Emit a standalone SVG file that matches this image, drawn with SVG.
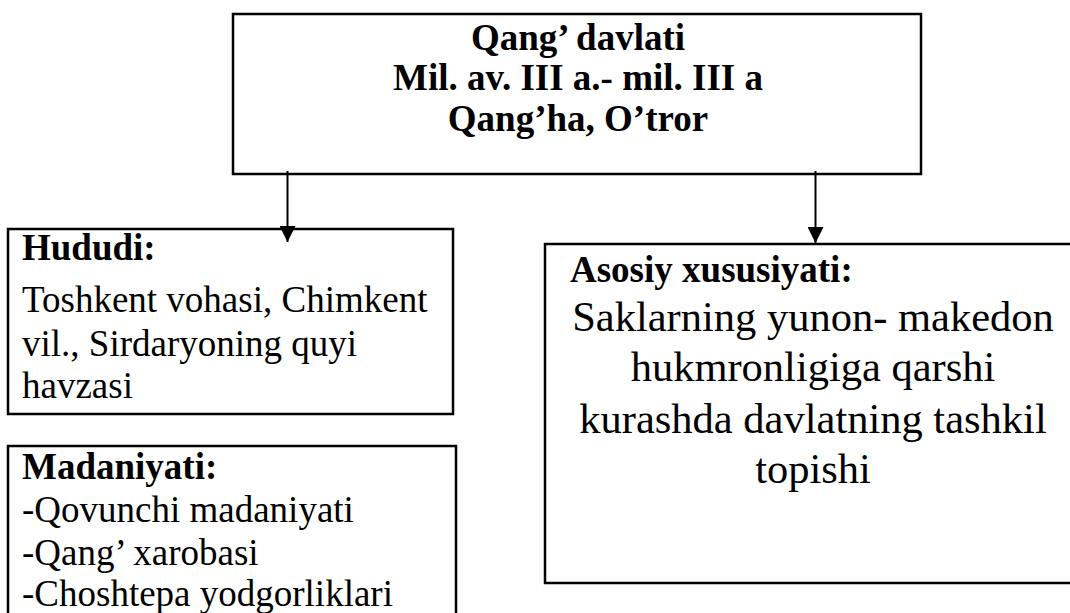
<svg xmlns="http://www.w3.org/2000/svg" width="1070" height="613" viewBox="0 0 1070 613">
  <defs>
    <marker id="arrow" markerUnits="userSpaceOnUse" markerWidth="16" markerHeight="16" refX="16" refY="8" orient="auto">
      <path d="M0,0 L16,8 L0,16 Z" fill="#000000"/>
    </marker>
  </defs>
  <rect width="1070" height="613" fill="#ffffff"/>

  <g id="node-title">
    <rect x="233" y="14" width="688" height="160" fill="#ffffff" stroke="#000000" stroke-width="2.5"/>
    <text font-family="Liberation Serif, Tinos, Times New Roman, serif" font-size="37" font-weight="bold" x="578" y="50" text-anchor="middle">Qang&#8217; davlati</text>
    <text font-family="Liberation Serif, Tinos, Times New Roman, serif" font-size="37" font-weight="bold" x="578" y="90" text-anchor="middle">Mil. av. III a.- mil. III a</text>
    <text font-family="Liberation Serif, Tinos, Times New Roman, serif" font-size="37" font-weight="bold" x="578" y="131" text-anchor="middle">Qang&#8217;ha, O&#8217;tror</text>
  </g>

  <g id="node-hududi">
    <rect x="8" y="229" width="445" height="185" fill="#ffffff" stroke="#000000" stroke-width="2.5"/>
    <text font-family="Liberation Serif, Tinos, Times New Roman, serif" font-size="37" font-weight="bold" x="22" y="260">Hududi:</text>
    <text font-family="Liberation Serif, Tinos, Times New Roman, serif" font-size="37" x="22" y="312">Toshkent vohasi, Chimkent</text>
    <text font-family="Liberation Serif, Tinos, Times New Roman, serif" font-size="37" x="22" y="356">vil., Sirdaryoning quyi</text>
    <text font-family="Liberation Serif, Tinos, Times New Roman, serif" font-size="37" x="22" y="398">havzasi</text>
  </g>

  <g id="node-madaniyati">
    <rect x="8" y="446" width="448" height="200" fill="#ffffff" stroke="#000000" stroke-width="2.5"/>
    <text font-family="Liberation Serif, Tinos, Times New Roman, serif" font-size="37" font-weight="bold" x="22" y="479">Madaniyati:</text>
    <text font-family="Liberation Serif, Tinos, Times New Roman, serif" font-size="37" x="22" y="522">-Qovunchi madaniyati</text>
    <text font-family="Liberation Serif, Tinos, Times New Roman, serif" font-size="37" x="22" y="565">-Qang&#8217; xarobasi</text>
    <text font-family="Liberation Serif, Tinos, Times New Roman, serif" font-size="37" x="22" y="606">-Choshtepa yodgorliklari</text>
  </g>

  <g id="node-asosiy">
    <rect x="545" y="244" width="540" height="339" fill="#ffffff" stroke="#000000" stroke-width="2.5"/>
    <text font-family="Liberation Serif, Tinos, Times New Roman, serif" font-size="37" font-weight="bold" x="570" y="282">Asosiy xususiyati:</text>
    <text font-family="Liberation Serif, Tinos, Times New Roman, serif" font-size="42.5" x="813" y="331" text-anchor="middle">Saklarning yunon- makedon</text>
    <text font-family="Liberation Serif, Tinos, Times New Roman, serif" font-size="42.5" x="813" y="381" text-anchor="middle">hukmronligiga qarshi</text>
    <text font-family="Liberation Serif, Tinos, Times New Roman, serif" font-size="42.5" x="813" y="433" text-anchor="middle">kurashda davlatning tashkil</text>
    <text font-family="Liberation Serif, Tinos, Times New Roman, serif" font-size="42.5" x="813" y="483" text-anchor="middle">topishi</text>
  </g>

  <g id="connectors" stroke="#000000" stroke-width="2" fill="none">
    <line x1="287.5" y1="171" x2="287.5" y2="242" marker-end="url(#arrow)"/>
    <line x1="815.5" y1="171" x2="815.5" y2="243" marker-end="url(#arrow)"/>
  </g>
</svg>
